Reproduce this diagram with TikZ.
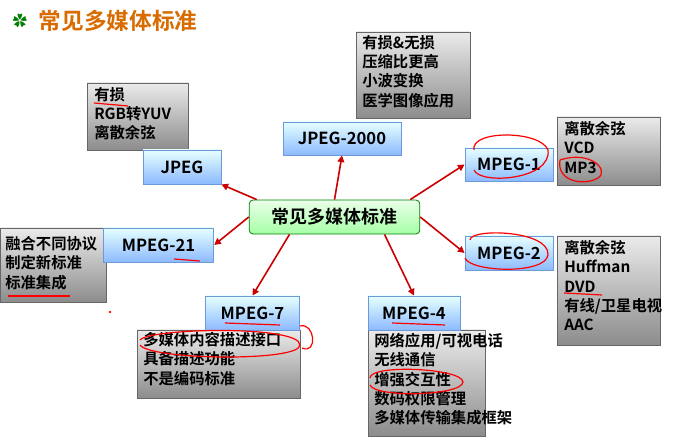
\documentclass[tikz,border=0pt]{standalone}
\usepackage{fontspec}
\setmainfont{Noto Sans CJK SC}[BoldFont={Noto Sans CJK SC Bold}]
\usetikzlibrary{arrows.meta}
\begin{document}
\begin{tikzpicture}[x=0.75pt,y=-0.75pt,
  graybox/.style={draw=black!60,line width=0.6pt,top color=black!8,bottom color=black!45,anchor=north west,inner sep=0pt},
  bluebox/.style={draw=cyan!50!blue!60,line width=0.6pt,top color=cyan!10,bottom color=cyan!40!blue!45,inner sep=0pt,font=\bfseries\fontsize{12.5}{14}\selectfont},
  desc/.style={anchor=north west,align=left,font=\bfseries\fontsize{11.5}{14.5}\selectfont,inner sep=0pt},
  arr/.style={draw=red!80!black,line width=1.2pt,-{Triangle[length=5pt,width=5pt]}},
  penmark/.style={red,line width=0.9pt}]
\fill[white] (0,0) rectangle (692,448);
\useasboundingbox (0,0) rectangle (692,448);
% title
\node[text=green!50!black,font=\fontsize{11}{11}\selectfont] (ic) at (20,21) {✿};
\node[anchor=west,text=orange!85!black,font=\bfseries\fontsize{17}{17}\selectfont] (title) at (34,21) {常见多媒体标准};
% gray boxes
\path[graybox] (87,83) rectangle (188,150);
\node[desc] (d1) at (94,87) {有损\\RGB转YUV\\离散余弦};
\path[graybox] (356,32) rectangle (470,118);
\node[desc] (d2) at (362,35) {有损\&无损\\压缩比更高\\小波变换\\医学图像应用};
\path[graybox] (557,117) rectangle (660,185);
\node[desc] (d3) at (564,121) {离散余弦\\VCD\\MP3};
\path[graybox] (557,236) rectangle (660,345);
\node[desc] (d4) at (564,240) {离散余弦\\Huffman\\DVD\\有线/卫星电视\\AAC};
\path[graybox] (0,228) rectangle (106,302);
\node[desc] (d5) at (5,236) {融合不同协议\\制定新标准\\标准集成};
\path[graybox] (137,330) rectangle (300,398);
\node[desc] (d6) at (143,332) {多媒体内容描述接口\\具备描述功能\\不是编码标准};
\path[graybox] (368,330) rectangle (485,436);
\node[desc] (d7) at (374,333) {网络应用/可视电话\\无线通信\\增强交互性\\数码权限管理\\多媒体传输集成框架};
% blue boxes
\node[bluebox,minimum width=58.5pt,minimum height=25.5pt] (jpeg) at (182,167) {JPEG};
\node[bluebox,minimum width=88.5pt,minimum height=24.75pt] (j2k) at (342,138.5) {JPEG-2000};
\node[bluebox,minimum width=66pt,minimum height=24.75pt] (m1) at (509,164.5) {MPEG-1};
\node[bluebox,minimum width=66pt,minimum height=25.5pt] (m2) at (509,253) {MPEG-2};
\node[bluebox,minimum width=83pt,minimum height=25.5pt] (m21) at (158.5,245) {MPEG-21};
\node[bluebox,minimum width=71pt,minimum height=25.5pt] (m7) at (252.5,313) {MPEG-7};
\node[bluebox,minimum width=69pt,minimum height=25.5pt] (m4) at (414,313) {MPEG-4};
% center
\node[draw=green!50!black,line width=0.6pt,rounded corners=3pt,top color=green!8,bottom color=green!35,minimum width=128pt,minimum height=25.5pt,font=\bfseries\fontsize{13.5}{15}\selectfont] (c) at (334.5,217) {常见多媒体标准};
% arrows
\draw[arr] (c.north west) ++(8,0) -- (jpeg.south east);
\draw[arr] (c.north) -- (j2k.south);
\draw[arr] (c.north east) ++(-10,0) -- (m1.west);
\draw[arr] (c.east) -- (m2.west);
\draw[arr] (c.west) -- (m21.east);
\draw[arr] (c.south) ++(-45,0) -- (m7.north);
\draw[arr] (c.south) ++(50,0) -- (m4.north);
% handwritten marks
\draw[penmark] (94,103) -- (128,106);
\draw[penmark] (474,150) .. controls (470,130) and (540,130) .. (548,150) .. controls (552,180) and (480,185) .. (474,170);
\draw[penmark] (560,160) .. controls (590,150) and (610,170) .. (598,178) .. controls (585,186) and (556,182) .. (560,160);
\draw[penmark] (470,240) .. controls (470,228) and (550,230) .. (548,255) .. controls (545,275) and (470,272) .. (465,258);
\draw[penmark] (564,293) -- (602,295);
\draw[penmark] (174,259) -- (200,261);
\draw[penmark] (8,296) -- (70,296);
\draw[penmark] (225,323) -- (280,325);
\draw[penmark] (392,323) -- (445,325);
\draw[penmark] (140,340) .. controls (150,328) and (300,325) .. (300,345) .. controls (300,362) and (150,360) .. (140,345);
\draw[penmark] (300,326) .. controls (315,322) and (318,355) .. (302,348);
\draw[penmark] (370,378) .. controls (370,364) and (462,368) .. (463,382) .. controls (462,396) and (375,398) .. (370,385);
\fill[red] (110,312) circle (1pt);
\end{tikzpicture}
\end{document}
